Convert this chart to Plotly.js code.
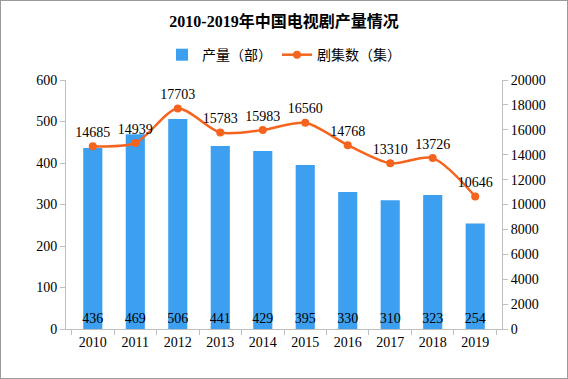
<!DOCTYPE html>
<html><head><meta charset="utf-8">
<script src="https://cdn.plot.ly/plotly-3.0.1.min.js"></script>
<style>
html,body{margin:0;padding:0;background:#fff;}
#wrap{width:568px;height:379px;box-sizing:border-box;border:1px solid #9a9a9a;overflow:hidden;}
#chart{width:566px;height:377px;}
</style></head>
<body><div id="wrap"><div id="chart"></div></div>
<script>
const years = ['2010','2011','2012','2013','2014','2015','2016','2017','2018','2019'];
const output = [436,469,506,441,429,395,330,310,323,254];
const episodes = [14685,14939,17703,15783,15983,16560,14768,13310,13726,10646];
const leftTicks = [0,100,200,300,400,500,600];
const rightTicks = [0,2000,4000,6000,8000,10000,12000,14000,16000,18000,20000];

const F = 'Liberation Serif, Noto Sans CJK SC, serif';
const barColor = '#3d9ff0';
const lineColor = '#f5641e';

const traces = [
  {type:'bar', name:'产量（部）', x:years, y:output, text:output.map(String),
   textposition:'inside', insidetextanchor:'start', textangle:0, constraintext:'none',
   textfont:{family:F,size:14,color:'#000'}, marker:{color:barColor},
   cliponaxis:false, hoverinfo:'none'},
  {type:'scatter', mode:'lines+markers+text', name:'剧集数（集）', x:years, y:episodes, yaxis:'y2',
   text:episodes.map(String), textposition:'top center',
   textfont:{family:F,size:14,color:'#000'},
   line:{color:lineColor,width:2.5,shape:'spline',smoothing:0.8},
   marker:{color:lineColor,size:8}, cliponaxis:false, hoverinfo:'none'}
];

const layout = {
  width:566, height:377,
  margin:{l:65,r:65,t:79,b:49},
  paper_bgcolor:'#fff', plot_bgcolor:'#fff',
  font:{family:F,size:13,color:'#000'},
  title:{text:'<b>2010-2019年中国电视剧产量情况</b>', x:0.5, xanchor:'center', y:0.945, yanchor:'middle',
         font:{family:F,size:16,color:'#000'}},
  showlegend:true,
  legend:{orientation:'h', x:0.5, xanchor:'center', y:1.1, yanchor:'middle',
          font:{family:F,size:14,color:'#000'}, itemwidth:30},
  bargap:0.55,
  xaxis:{type:'category', showline:true, linecolor:'#bfbfbf', linewidth:1,
         ticks:'outside', tickson:'boundaries', ticklen:5, tickcolor:'#bfbfbf',
         showgrid:false, tickfont:{family:F,size:14}, fixedrange:true},
  yaxis:{range:[0,600], tickvals:leftTicks, showline:true, linecolor:'#bfbfbf', linewidth:1,
         ticks:'outside', ticklen:5, tickcolor:'#bfbfbf', showgrid:false, zeroline:false,
         tickfont:{family:F,size:14}, fixedrange:true},
  yaxis2:{range:[0,20000], tickvals:rightTicks, ticktext:rightTicks.map(String), overlaying:'y', side:'right', showline:true,
          linecolor:'#bfbfbf', linewidth:1, ticks:'outside', ticklen:5, tickcolor:'#bfbfbf',
          showgrid:false, zeroline:false, tickfont:{family:F,size:14}, fixedrange:true}
};
Plotly.newPlot('chart', traces, layout, {displayModeBar:false, staticPlot:true});
</script></body></html>
